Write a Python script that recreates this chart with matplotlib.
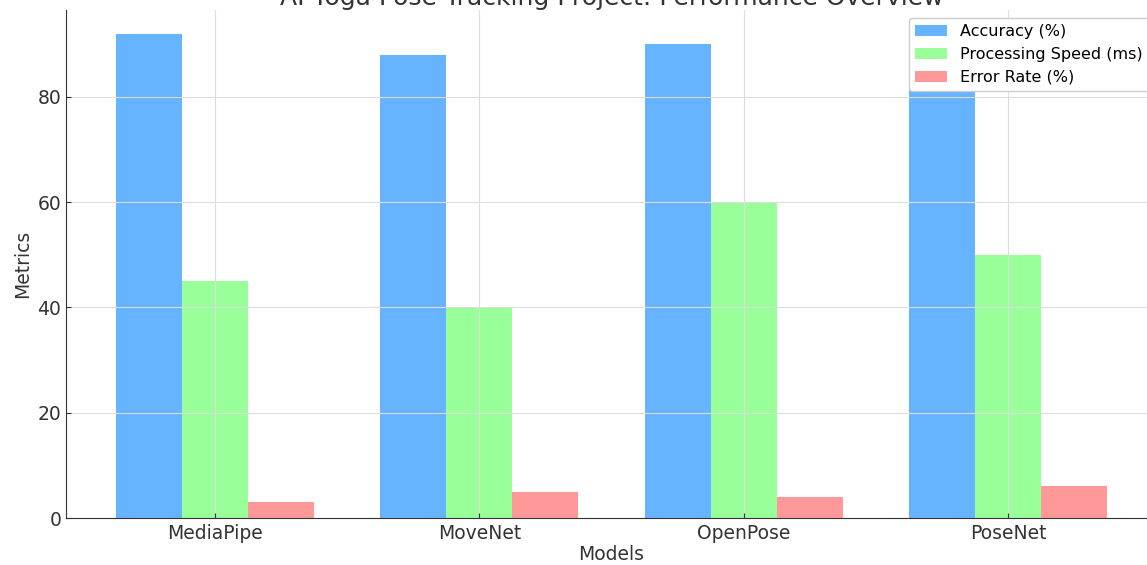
import numpy as np
import matplotlib
matplotlib.use("Agg")
import matplotlib.pyplot as plt

# ── Data ────────────────────────────────────────────────────────────────────
models = ["MediaPipe", "MoveNet", "OpenPose", "PoseNet"]
accuracy = [92, 88, 90, 85]
speed = [45, 40, 60, 50]
error_rate = [3, 5, 4, 6]

series_labels = ["Accuracy (%)", "Processing Speed (ms)", "Error Rate (%)"]
colors = ["#66b3ff", "#99ff99", "#ff9999"]

# ── Figure ──────────────────────────────────────────────────────────────────
W, H = 1147, 565
fig = plt.figure(figsize=(W / 100, H / 100), dpi=100)
ax = fig.add_axes([66 / W, 47 / H, (1157 - 66) / W, 508.4 / H])

x = np.arange(len(models))
width = 0.25
for i, (vals, lab, col) in enumerate(zip([accuracy, speed, error_rate], series_labels, colors)):
    ax.bar(x + (i - 1) * width, vals, width, label=lab, color=col)

ax.set_xticks(x)
ax.set_xticklabels(models)
ax.tick_params(labelsize=13.5, colors="#333333", direction="in")
ax.tick_params(axis="x", pad=4)
ax.set_xlabel("Models", fontsize=13.5, color="#333333", labelpad=2)
ax.set_ylabel("Metrics", fontsize=13.5, color="#333333")
ax.set_title("AI Yoga Pose Tracking Project: Performance Overview",
             fontsize=18, color="#333333", pad=0.5)

ax.grid(True, color="#dddddd", lw=0.8)
for side in ("top", "right"):
    ax.spines[side].set_visible(False)
for side in ("left", "bottom"):
    ax.spines[side].set_color("#333333")

ax.legend(loc="upper right", fontsize=11.5, framealpha=1, edgecolor="#cccccc")

fig.savefig("out.png", dpi=100)
